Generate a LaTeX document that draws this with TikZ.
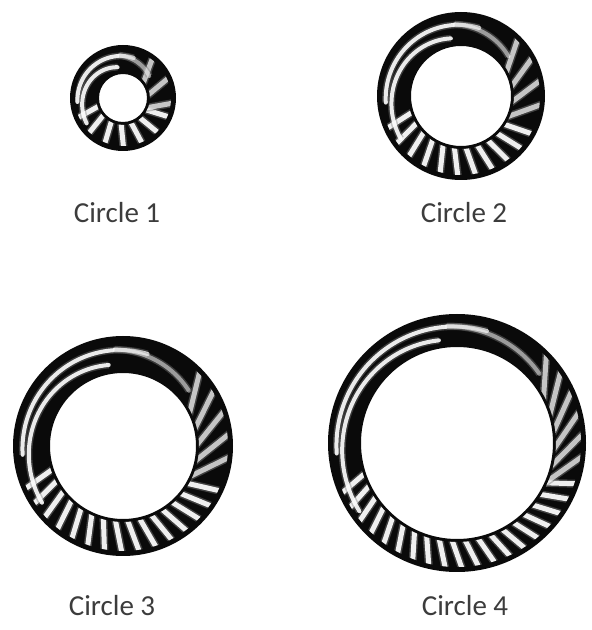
\documentclass[tikz,border=0pt]{standalone}
\usepackage{fontspec}
\setmainfont{Carlito}
\definecolor{RingInk}{HTML}{0A0A0A}
\definecolor{LabelInk}{HTML}{3C3C3C}

% one textured ring: centre, outer radius, inner radius
\newcommand\hatchring[3]{%
  \begin{scope}[shift={(#1)}]
    \pgfmathsetmacro\rmid{(#2+#3)/2}
    \pgfmathsetmacro\rstep{15/\rmid*57.3}
    \pgfmathsetmacro\rnext{198+\rstep}
    \pgfmathsetmacro\dstep{20/\rmid*57.3}
    \pgfmathsetmacro\dnext{-25+\dstep}
    \fill[RingInk, even odd rule] (0,0) circle (#2) (0,0) circle (#3);
    \begin{scope}[even odd rule]
      \clip (0,0) circle ({#2-5}) (0,0) circle ({#3+3});
      % radial strokes along the bottom
      \foreach \a in {198,\rnext,...,336}
        \draw[stripe] (\a:#3) -- (\a+6:#2);
      % slanted strokes on the right
      \foreach \a in {-25,\dnext,...,35}
        \draw[stripe, opacity=0.7] (\a:#3) -- (\a+20:#2);
      % long streaks over the top
      \draw[streak, domain=100:215, samples=40, variable=\t, smooth]
        plot (\t:{#3+(#2-#3)*(0.25+0.45*(\t-100)/115)});
      \draw[streak, domain=75:185, samples=40, variable=\t, smooth]
        plot (\t:{#3+(#2-#3)*(0.6+0.15*(\t-75)/110)});
      \draw[streak, opacity=0.5, domain=40:95, samples=30, variable=\t, smooth]
        plot (\t:{#3+(#2-#3)*(0.35+0.3*(\t-40)/55)});
    \end{scope}
  \end{scope}}

\begin{document}
\begin{tikzpicture}[x=1pt, y=1pt,
    stripe/.style={preaction={draw, gray, line width=8pt, opacity=0.45},
      white, line width=5pt, line cap=round, opacity=0.92},
    streak/.style={preaction={draw, gray, line width=7pt, opacity=0.4},
      white, line width=4pt, line cap=round, opacity=0.9},
    label/.style={font=\fontsize{29}{34}\selectfont, text=LabelInk, anchor=base, inner sep=0pt}]
  \useasboundingbox (0,0) rectangle (592,630);

  \coordinate (c1) at (123,532);
  \coordinate (c2) at (461,534);
  \coordinate (c3) at (123,184);
  \coordinate (c4) at (457,187);

  \hatchring{c1}{53}{24}
  \hatchring{c2}{84}{50}
  \hatchring{c3}{110}{73}
  \hatchring{c4}{129}{96}

  \node[label] (lbl1) at (117,407) {Circle 1};
  \node[label] (lbl2) at (464,407) {Circle 2};
  \node[label] (lbl3) at (112,15) {Circle 3};
  \node[label] (lbl4) at (465,15) {Circle 4};
\end{tikzpicture}
\end{document}
